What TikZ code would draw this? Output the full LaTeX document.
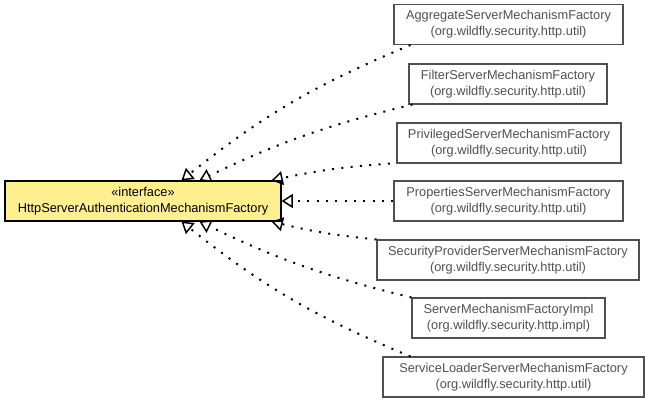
\documentclass[tikz,border=0pt]{standalone}
\usepackage{fontspec}
\setmainfont{Liberation Sans}
\usetikzlibrary{arrows.meta}
\definecolor{ifacefill}{RGB}{255,240,143}
\definecolor{implgray}{RGB}{80,80,80}

\begin{document}
\begin{tikzpicture}[x=0.75pt, y=-0.75pt,
  every node/.style={font=\fontsize{9.6}{12}\selectfont, align=center, inner sep=0pt, minimum height=30pt},
  iface/.style={draw=black, fill=ifacefill, line width=0.8pt},
  klass/.style={draw=implgray, text=implgray, line width=0.8pt},
  realize/.style={line width=1.5pt, dash pattern=on 1.5pt off 5.5pt,
    -{Triangle[open, length=8.5pt, width=10.5pt, line width=1.1pt]}}]
\useasboundingbox (0,0) rectangle (645,403);
\node[iface, minimum width=207pt] (factory) at (143,201) {«interface»\\HttpServerAuthenticationMechanismFactory};
\node[klass, minimum width=171.75pt] (agg) at (508.5,24.5) {AggregateServerMechanismFactory\\(org.wildfly.security.http.util)};
\node[klass, minimum width=148.5pt] (filter) at (508,84) {FilterServerMechanismFactory\\(org.wildfly.security.http.util)};
\node[klass, minimum width=168pt] (priv) at (509,143) {PrivilegedServerMechanismFactory\\(org.wildfly.security.http.util)};
\node[klass, minimum width=171.75pt] (props) at (508.5,201) {PropertiesServerMechanismFactory\\(org.wildfly.security.http.util)};
\node[klass, minimum width=196.5pt] (secprov) at (508,260) {SecurityProviderServerMechanismFactory\\(org.wildfly.security.http.util)};
\node[klass, minimum width=144.75pt] (impl) at (508.5,318) {ServerMechanismFactoryImpl\\(org.wildfly.security.http.impl)};
\node[klass, minimum width=195.75pt] (loader) at (513.5,377) {ServiceLoaderServerMechanismFactory\\(org.wildfly.security.http.util)};
\draw[realize] ([xshift=12.75pt]agg.south west) to[bend right=8] ([xshift=132.75pt]factory.north west);
\draw[realize] ([xshift=3pt]filter.south west) to[bend right=6] ([xshift=146.25pt]factory.north west);
\draw[realize] ([xshift=-5pt]priv.south west) to[bend right=4] ([xshift=200.25pt]factory.north west);
\draw[realize] (props) -- (factory);
\draw[realize] (secprov.north west) to[bend left=4] ([xshift=200.25pt]factory.south west);
\draw[realize] (impl.north west) to[bend left=6] ([xshift=146.25pt]factory.south west);
\draw[realize] ([xshift=21pt]loader.north west) to[bend left=8] ([xshift=132.75pt]factory.south west);
\end{tikzpicture}
\end{document}
